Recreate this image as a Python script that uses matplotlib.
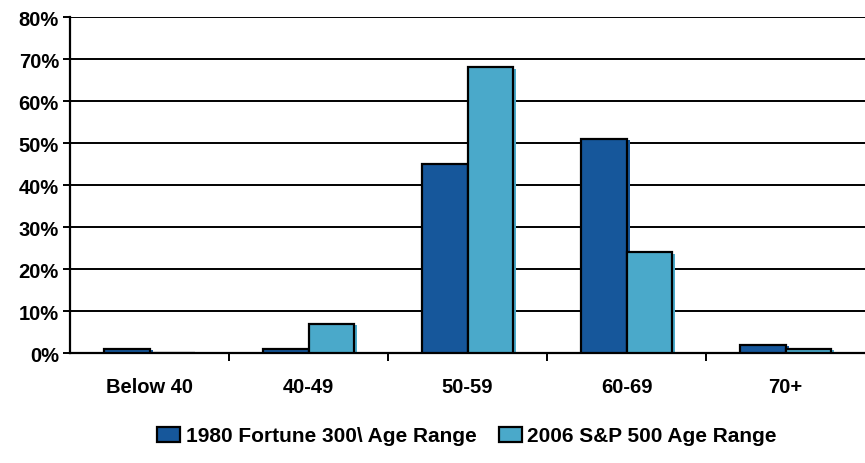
import matplotlib.pyplot as plt
import numpy as np
from matplotlib.ticker import FixedLocator, PercentFormatter

age_ranges = ["Below 40", "40-49", "50-59", "60-69", "70+"]
fortune_1980 = [1, 1, 45, 51, 2]
sp500_2006 = [0, 7, 68, 24, 1]
series_labels = ["1980 Fortune 300\\ Age Range", "2006 S&P 500 Age Range"]
y_ticks = [0, 10, 20, 30, 40, 50, 60, 70, 80]

DARK = "#16579b"
LIGHT = "#4aa9ca"

plt.rcParams["font.family"] = ["Liberation Sans", "DejaVu Sans"]
plt.rcParams["font.weight"] = "bold"

fig = plt.figure(figsize=(8.65, 4.64), dpi=100)
ax = fig.add_axes([70 / 865, 1 - 354 / 464, 1 - 70 / 865, (354 - 18) / 464])

x = np.arange(len(age_ranges))
width = 0.285

for vals, color, offset, label in [
    (fortune_1980, DARK, -width / 2, series_labels[0]),
    (sp500_2006, LIGHT, width / 2, series_labels[1]),
]:
    # small drop shadow, then the bar itself
    ax.bar(x + offset + 0.02, vals, width, bottom=-0.4, color=color,
           linewidth=0, zorder=2)
    ax.bar(x + offset, vals, width, color=color, edgecolor="black",
           linewidth=1.6, label=label, zorder=3)

ax.set_xlim(-0.5, len(age_ranges) - 0.5)
ax.set_ylim(0, 80)
ax.set_yticks(y_ticks)
ax.yaxis.set_major_formatter(PercentFormatter(decimals=0))
ax.grid(axis="y", color="black", linewidth=1.4, zorder=0)
ax.set_axisbelow(True)

ax.set_xticks(x)
ax.set_xticklabels(age_ranges)
ax.xaxis.set_minor_locator(FixedLocator(np.arange(0.5, len(age_ranges) - 0.5, 1)))
ax.tick_params(axis="x", which="major", length=0, pad=17, labelsize=14.5)
ax.tick_params(axis="x", which="minor", length=6, width=1.4, direction="out")
ax.tick_params(axis="y", length=5, width=1.4, labelsize=14.5, pad=3)

for side in ("top", "right"):
    ax.spines[side].set_visible(False)
for side in ("left", "bottom"):
    ax.spines[side].set_linewidth(1.6)

handles, labels = ax.get_legend_handles_labels()
fig.legend(handles, labels, loc="center", bbox_to_anchor=(0.54, 1 - 437 / 464),
           ncol=2, frameon=False, fontsize=15, handlelength=1.1,
           handleheight=0.7, handletextpad=0.25, columnspacing=1.1)

fig.savefig("out.png", dpi=100)
